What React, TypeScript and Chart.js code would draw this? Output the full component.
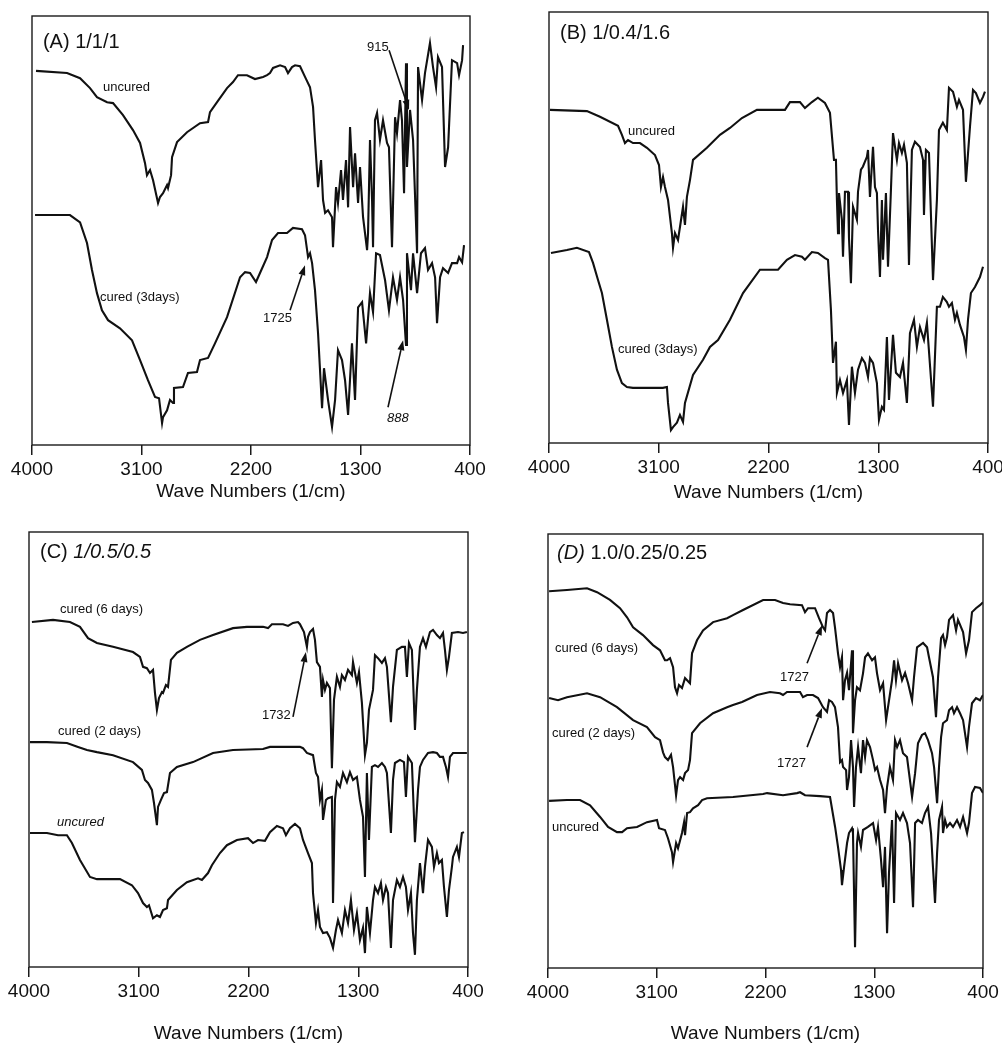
import React, { useEffect, useRef } from "react";
import { Chart, registerables } from "chart.js";

Chart.register(...registerables);

type Pt = [number, number];

const FONT = '"Liberation Sans", Arial, Helvetica, sans-serif';
const INK = "#111111";

const X_TICKS = [4000, 3100, 2200, 1300, 400];
const X_TITLE = "Wave Numbers (1/cm)";

// ---- Panel A : 1/1/1 ----
const A_UNCURED: Pt[] = [
  [3967,87.2],[3712,86.7],[3605,85.5],[3523,83.2],[3466,81.1],[3383,79.9],[3334,79.7],[3252,76.9],[3170,73.4],[3112,70.4],
  [3071,65.7],[3055,62.9],[3030,64.1],[3005,61.7],[2964,56.4],[2948,57.8],[2923,58.7],[2890,60.6],[2882,59.9],[2857,62.9],
  [2849,67.1],[2808,70.6],[2726,72.9],[2619,75.0],[2553,75.3],[2537,77.6],[2479,79.9],[2397,83.2],[2348,84.6],[2307,86.2],
  [2233,86.2],[2167,85.3],[2101,85.8],[2068,86.2],[2044,86.7],[2019,87.9],[1961,88.5],[1920,88.1],[1896,86.7],[1863,88.1],
  [1838,88.5],[1797,88.3],[1756,85.8],[1715,83.4],[1690,78.8],[1674,71.1],[1649,60.1],[1624,66.4],[1608,57.1],[1591,54.1],
  [1567,54.7],[1534,53.1],[1526,46.1],[1501,60.1],[1485,56.4],[1460,64.1],[1444,57.1],[1419,66.4],[1402,55.4],[1386,74.1],
  [1361,60.1],[1345,68.0],[1320,56.4],[1304,64.8],[1279,53.1],[1246,45.4],[1238,49.4],[1222,71.1],[1205,57.1],[1197,46.1],
  [1181,75.7],[1164,77.4],[1140,71.1],[1115,75.7],[1082,70.4],[1066,69.4],[1041,46.1],[1016,76.4],[1000,72.7],[975,80.4],
  [959,75.7],[942,58.7],[926,89.0],[918,64.8],[893,78.1],[868,71.1],[835,44.7],[827,88.1],[794,80.4],[770,86.7],
  [729,93.7],[704,88.1],[679,83.4],[663,90.4],[630,88.1],[605,64.8],[580,69.4],[548,89.7],[506,89.0],[490,86.2],
  [465,89.7],[457,93.2],
];
const A_CURED_3D: Pt[] = [
  [3975,53.6],[3688,53.6],[3605,51.9],[3548,47.1],[3507,40.8],[3466,35.4],[3425,31.4],[3375,29.1],[3277,27.2],[3178,24.4],
  [3112,19.8],[3047,15.1],[2989,11.2],[2956,10.9],[2931,5.1],[2923,6.5],[2890,8.1],[2866,10.5],[2841,9.8],[2833,13.3],
  [2759,13.5],[2718,16.8],[2644,17.0],[2619,19.8],[2553,20.3],[2496,23.7],[2397,29.8],[2290,39.1],[2249,40.3],[2208,40.1],
  [2159,38.0],[2126,40.1],[2068,43.8],[2027,47.8],[1978,49.4],[1904,49.4],[1855,50.6],[1781,50.3],[1756,48.9],[1731,43.8],
  [1715,44.7],[1698,42.4],[1674,36.1],[1649,26.1],[1616,8.6],[1600,17.9],[1567,10.5],[1534,4.2],[1509,10.5],[1485,22.1],
  [1452,19.8],[1427,15.1],[1402,7.0],[1370,23.7],[1345,10.5],[1320,32.1],[1287,33.3],[1254,23.7],[1222,35.4],[1197,31.0],
  [1172,44.7],[1140,44.3],[1098,38.4],[1066,31.4],[1033,39.1],[1000,33.8],[975,39.1],[950,33.8],[926,23.3],[918,44.7],
  [885,36.1],[868,44.7],[835,35.4],[803,44.7],[770,45.9],[745,40.8],[712,42.4],[687,39.1],[671,28.4],[646,39.1],
  [622,41.2],[580,40.1],[548,42.4],[506,42.4],[490,43.8],[465,42.6],[449,46.6],
];

// ---- Panel B : 1/0.4/1.6 ----
const B_UNCURED: Pt[] = [
  [3992,77.3],[3689,77.0],[3582,75.7],[3434,73.6],[3402,71.5],[3377,69.6],[3352,70.3],[3311,69.6],[3254,69.6],[3197,68.5],
  [3131,66.8],[3098,64.5],[3082,59.4],[3065,61.7],[3049,59.4],[3024,56.4],[2992,48.7],[2983,45.3],[2967,48.7],[2942,47.1],
  [2901,54.8],[2885,50.6],[2869,57.1],[2844,61.0],[2819,65.7],[2705,68.5],[2598,71.5],[2516,73.1],[2418,75.4],[2295,77.3],
  [2065,77.3],[2024,79.1],[1942,79.1],[1901,77.7],[1844,79.1],[1795,80.1],[1737,78.9],[1696,76.6],[1663,65.7],[1647,65.7],
  [1639,56.4],[1630,48.7],[1622,58.0],[1598,51.8],[1589,43.2],[1573,58.3],[1548,58.3],[1540,47.6],[1524,37.1],[1507,54.8],
  [1475,51.8],[1466,58.3],[1442,63.4],[1426,64.1],[1393,66.4],[1384,68.0],[1368,57.1],[1343,68.7],[1327,59.4],[1311,58.0],
  [1302,49.4],[1286,38.5],[1270,56.4],[1261,42.5],[1237,58.0],[1220,40.9],[1196,58.7],[1179,71.9],[1147,65.7],[1130,69.6],
  [1106,67.3],[1089,69.2],[1065,65.0],[1048,41.3],[1024,68.0],[999,69.9],[958,68.7],[933,65.7],[925,52.9],[909,68.0],
  [884,67.3],[851,37.8],[819,56.4],[802,72.6],[770,74.3],[737,72.6],[720,82.4],[687,81.5],[655,78.0],[638,79.6],
  [605,77.3],[581,60.6],[548,73.3],[523,81.9],[499,81.2],[466,78.9],[441,80.3],[425,81.5],
];
const B_CURED_3D: Pt[] = [
  [3984,44.1],[3853,44.8],[3771,45.3],[3672,44.3],[3639,41.8],[3598,37.8],[3566,34.8],[3525,28.6],[3484,22.3],[3443,17.0],
  [3402,13.9],[3361,13.0],[3312,12.8],[3066,12.8],[3033,13.0],[3024,9.3],[3000,3.0],[2983,3.7],[2951,4.7],[2926,6.5],
  [2901,4.9],[2885,9.3],[2819,15.8],[2737,19.3],[2680,22.3],[2614,23.9],[2516,28.6],[2409,34.8],[2270,40.2],[2122,40.2],
  [2049,42.5],[1983,43.6],[1926,43.2],[1901,42.5],[1844,44.3],[1795,44.1],[1737,42.9],[1712,42.5],[1688,30.9],[1671,18.6],
  [1647,23.5],[1639,11.6],[1614,14.6],[1589,11.6],[1557,14.6],[1540,4.2],[1516,17.7],[1491,11.6],[1466,17.0],[1434,19.7],
  [1409,18.6],[1384,15.3],[1368,19.7],[1343,18.6],[1311,13.9],[1294,5.4],[1270,8.4],[1253,7.7],[1229,24.6],[1212,10.0],
  [1179,25.1],[1155,16.3],[1122,15.3],[1097,18.6],[1065,9.3],[1040,25.5],[1007,28.6],[983,22.3],[958,26.9],[925,23.9],
  [901,27.9],[851,8.4],[819,31.6],[794,31.6],[770,33.9],[737,32.7],[720,31.6],[696,32.5],[671,28.6],[655,30.2],
  [630,27.4],[597,24.6],[581,21.6],[564,28.6],[540,34.8],[507,36.2],[466,38.5],[441,40.9],
];

// ---- Panel C : 1/0.5/0.5 ----
const C_CURED_6D: Pt[] = [
  [3976,79.3],[3803,79.8],[3664,79.3],[3582,78.2],[3516,75.6],[3443,74.5],[3311,73.6],[3147,72.4],[3090,71.3],[3065,69.0],
  [3033,68.7],[3008,67.6],[2983,68.3],[2967,63.0],[2951,59.1],[2934,61.8],[2910,63.2],[2901,63.0],[2877,64.8],[2860,64.4],
  [2836,70.6],[2787,72.2],[2705,73.6],[2598,75.2],[2491,76.3],[2327,77.9],[2213,78.2],[2081,78.2],[2040,77.9],[2008,78.8],
  [1917,78.8],[1876,78.4],[1835,79.1],[1794,79.3],[1778,78.8],[1745,77.0],[1721,73.6],[1712,75.9],[1696,77.0],[1671,77.7],
  [1655,75.2],[1639,70.1],[1614,69.0],[1598,62.1],[1589,66.0],[1573,63.7],[1557,65.3],[1532,64.1],[1516,45.7],[1499,61.4],
  [1475,66.7],[1450,64.4],[1434,67.1],[1409,66.0],[1384,68.3],[1352,67.1],[1343,70.1],[1311,65.3],[1294,67.8],[1270,60.7],
  [1245,48.7],[1229,51.5],[1212,59.1],[1179,63.7],[1163,71.7],[1138,71.0],[1106,69.9],[1081,71.0],[1065,69.0],[1032,56.3],
  [1015,64.4],[983,72.9],[942,73.6],[917,73.6],[901,66.7],[884,74.5],[860,72.9],[835,54.5],[819,63.7],[794,73.6],
  [769,75.6],[745,73.6],[712,77.0],[687,77.5],[655,76.3],[630,75.6],[605,76.8],[589,72.9],[573,68.3],[556,71.3],
  [532,76.8],[482,77.0],[441,76.8],[409,77.0],
];
const C_CURED_2D: Pt[] = [
  [3992,51.7],[3853,51.7],[3689,51.5],[3598,50.6],[3525,49.9],[3443,49.4],[3311,48.7],[3147,47.1],[3074,45.3],[3049,43.0],
  [3024,42.3],[2992,40.7],[2975,37.7],[2951,32.6],[2942,36.8],[2918,38.4],[2893,40.0],[2869,40.2],[2844,44.6],[2787,46.0],
  [2655,47.1],[2491,49.2],[2327,49.9],[2081,50.1],[2024,50.6],[1778,50.6],[1753,50.3],[1721,49.2],[1671,48.7],[1647,44.6],
  [1630,43.7],[1614,38.4],[1598,40.7],[1589,33.8],[1565,38.4],[1548,38.8],[1516,39.1],[1507,14.7],[1491,38.4],[1475,42.5],
  [1450,41.4],[1425,44.6],[1393,42.5],[1368,44.8],[1343,43.0],[1311,43.7],[1286,38.4],[1261,34.5],[1245,20.7],[1229,44.6],
  [1212,29.2],[1188,46.0],[1163,46.4],[1138,46.0],[1106,46.9],[1081,46.0],[1065,44.6],[1032,30.8],[1015,43.0],[999,46.9],
  [958,47.6],[925,47.1],[909,39.1],[892,48.3],[860,46.9],[835,28.7],[810,40.7],[794,46.0],[769,47.6],[728,49.2],
  [687,49.4],[655,49.2],[630,48.3],[605,48.3],[581,46.0],[564,43.7],[548,48.3],[523,49.2],[466,49.2],[409,49.2],
];
const C_UNCURED: Pt[] = [
  [3992,30.8],[3853,30.8],[3762,30.3],[3689,30.3],[3648,28.5],[3582,24.6],[3500,20.7],[3443,20.2],[3254,20.2],[3156,18.8],
  [3106,17.0],[3065,14.7],[3033,13.8],[3016,14.2],[2983,11.2],[2951,11.9],[2926,11.5],[2901,13.1],[2869,13.5],[2860,15.4],
  [2787,17.7],[2705,19.5],[2614,20.4],[2582,20.0],[2532,21.6],[2500,23.4],[2434,26.2],[2377,28.0],[2295,29.2],[2204,29.6],
  [2163,28.5],[2122,29.2],[2065,29.0],[2024,31.0],[1967,32.4],[1917,31.9],[1893,30.3],[1860,31.9],[1819,32.9],[1778,31.9],
  [1753,29.2],[1712,26.2],[1680,23.9],[1671,17.0],[1647,10.1],[1630,13.1],[1614,9.2],[1589,7.8],[1557,8.0],[1532,6.7],
  [1507,4.4],[1483,8.5],[1466,10.8],[1434,7.8],[1409,13.1],[1384,10.1],[1360,15.4],[1335,8.5],[1311,12.4],[1286,6.2],
  [1261,9.0],[1245,3.2],[1229,13.8],[1204,7.8],[1179,15.4],[1163,18.4],[1138,17.0],[1114,19.3],[1097,15.4],[1073,18.4],
  [1056,17.0],[1032,4.4],[1015,15.4],[983,20.0],[958,18.4],[933,20.7],[909,18.4],[892,13.1],[868,17.0],[851,7.8],
  [835,2.8],[819,15.4],[794,23.9],[769,17.0],[753,23.0],[728,29.2],[696,27.6],[679,23.0],[655,26.2],[638,23.9],
  [614,24.6],[597,18.4],[573,11.5],[556,17.7],[532,23.0],[523,25.3],[491,27.6],[474,25.3],[450,30.8],[433,31.0],
];

// ---- Panel D : 1.0/0.25/0.25 ----
const D_CURED_6D: Pt[] = [
  [3991,86.8],[3843,87.1],[3677,87.5],[3594,86.6],[3487,84.8],[3404,82.9],[3346,80.8],[3296,78.5],[3214,76.7],[3131,74.4],
  [3073,73.2],[3032,70.9],[3015,70.9],[2990,71.4],[2965,69.3],[2949,64.7],[2932,63.3],[2916,65.2],[2891,64.5],[2866,66.8],
  [2849,66.3],[2825,65.6],[2808,72.5],[2767,75.5],[2717,77.8],[2634,79.7],[2518,80.6],[2469,81.3],[2386,82.5],[2220,84.8],
  [2121,84.8],[2055,84.1],[1997,83.8],[1898,83.6],[1873,82.0],[1848,82.9],[1790,82.9],[1757,80.6],[1724,78.5],[1707,77.8],
  [1691,81.8],[1666,82.5],[1641,81.8],[1625,78.5],[1600,72.5],[1583,69.3],[1567,71.6],[1558,61.7],[1542,66.3],[1525,68.0],
  [1509,64.0],[1484,73.2],[1476,54.1],[1459,61.7],[1443,64.7],[1418,64.0],[1393,67.9],[1376,71.6],[1352,72.5],[1318,70.9],
  [1294,71.6],[1277,67.9],[1252,64.0],[1227,65.6],[1202,57.1],[1186,60.1],[1153,66.3],[1136,70.9],[1120,66.3],[1103,70.2],
  [1070,66.3],[1045,68.0],[1020,65.6],[987,61.7],[971,67.0],[946,73.9],[921,74.4],[896,74.9],[863,73.9],[847,71.6],
  [814,67.0],[789,57.8],[772,67.0],[747,76.0],[731,76.7],[714,74.4],[698,76.2],[681,80.2],[648,81.3],[623,77.8],
  [607,80.2],[565,77.4],[540,72.5],[516,75.5],[491,82.0],[458,82.9],[425,83.6],[400,84.3],
];
const D_CURED_2D: Pt[] = [
  [3991,62.2],[3917,61.7],[3843,62.4],[3677,63.3],[3569,62.4],[3429,60.1],[3296,57.1],[3181,55.5],[3114,53.2],[3073,52.5],
  [3048,49.7],[3032,48.6],[3007,47.9],[2982,49.1],[2965,46.3],[2940,39.8],[2924,43.3],[2907,44.0],[2882,43.3],[2866,44.9],
  [2841,45.6],[2825,47.9],[2808,54.1],[2742,56.4],[2634,58.7],[2518,60.1],[2469,60.6],[2394,61.3],[2270,62.9],[2163,63.6],
  [2080,63.3],[2055,62.9],[2022,63.6],[1914,63.6],[1890,62.4],[1856,62.9],[1807,62.9],[1765,62.2],[1724,60.1],[1691,59.0],
  [1674,61.7],[1650,61.3],[1625,60.1],[1600,55.5],[1583,47.4],[1567,47.9],[1558,46.3],[1533,45.6],[1525,41.0],[1509,44.0],
  [1492,52.5],[1476,46.3],[1467,37.1],[1451,46.3],[1434,50.9],[1410,44.9],[1393,52.5],[1376,48.6],[1360,52.5],[1335,50.9],
  [1310,47.9],[1293,45.6],[1277,46.3],[1252,43.3],[1227,41.0],[1211,35.7],[1194,41.7],[1170,46.3],[1145,43.3],[1128,52.5],
  [1111,50.9],[1087,52.5],[1062,49.5],[1029,48.6],[1012,44.9],[987,39.4],[962,44.9],[938,51.8],[905,53.7],[880,54.1],
  [855,52.5],[822,49.5],[805,46.3],[780,38.0],[764,46.3],[747,53.2],[731,56.4],[698,57.1],[681,59.4],[656,60.1],
  [640,58.7],[615,60.1],[590,58.7],[565,57.1],[532,50.9],[516,55.5],[491,61.0],[458,62.2],[425,61.7],[400,62.9],
];
const D_UNCURED: Pt[] = [
  [3991,38.5],[3843,38.7],[3735,38.7],[3652,37.5],[3569,34.8],[3503,32.5],[3429,31.3],[3387,31.3],[3346,32.2],[3263,32.5],
  [3181,33.6],[3098,34.1],[3081,32.2],[3032,31.8],[3007,29.9],[2974,26.7],[2965,24.4],[2940,28.8],[2924,27.6],[2891,31.1],
  [2874,33.6],[2866,30.6],[2849,35.7],[2825,35.9],[2800,36.8],[2758,37.5],[2725,38.7],[2684,39.1],[2469,39.4],[2220,40.1],
  [2187,40.3],[2055,39.8],[1939,40.3],[1914,40.5],[1873,39.8],[1749,39.6],[1666,39.4],[1624,32.5],[1600,27.9],[1575,22.6],
  [1567,19.1],[1550,23.2],[1525,28.8],[1509,31.1],[1484,32.2],[1476,31.1],[1459,4.8],[1443,28.8],[1434,31.1],[1410,27.9],
  [1393,31.8],[1352,32.5],[1310,33.4],[1285,29.5],[1269,32.5],[1244,24.9],[1227,18.6],[1211,27.9],[1194,8.0],[1178,21.9],
  [1153,34.1],[1136,15.0],[1120,35.7],[1087,34.1],[1062,35.7],[1029,33.4],[1004,28.8],[979,14.0],[962,33.4],[938,34.1],
  [905,33.4],[880,35.7],[855,37.1],[830,31.1],[814,23.2],[797,15.0],[780,26.5],[764,34.1],[739,37.1],[731,31.1],
  [714,34.1],[698,32.5],[673,33.4],[648,32.5],[615,34.1],[590,32.5],[565,34.8],[532,31.1],[516,33.4],[491,40.3],
  [466,41.7],[425,41.5],[400,40.3],
];

interface Part { text: string; italic?: boolean }
interface Note { text: string; wn: number; t: number; italic?: boolean }
interface ArrowDef { from: Pt; to: Pt }
interface Panel {
  key: string;
  box: { left: number; top: number; width: number; height: number };
  pad: { left: number; right: number; top: number };
  axisH: number;
  titlePad: number;
  heading: { wn: number; t: number; parts: Part[] };
  series: Pt[][];
  notes: Note[];
  arrows: ArrowDef[];
}

const PANELS: Panel[] = [
  {
    key: "A",
    box: { left: 0, top: 0, width: 520, height: 520 },
    pad: { left: 32, right: 50, top: 16 },
    axisH: 75,
    titlePad: 17,
    heading: { wn: 3910, t: 93.9, parts: [{ text: "(A) 1/1/1" }] },
    series: [A_UNCURED, A_CURED_3D],
    notes: [
      { text: "uncured", wn: 3416, t: 83.4 },
      { text: "cured (3days)", wn: 3441, t: 34.5 },
      { text: "915", wn: 1246, t: 92.7 },
      { text: "1725", wn: 2101, t: 29.6 },
      { text: "888", wn: 1082, t: 6.3, italic: true },
    ],
    arrows: [
      { from: [1065, 92.0], to: [901, 78.1] },
      { from: [1879, 31.4], to: [1756, 41.9] },
      { from: [1074, 8.8], to: [950, 24.4] },
    ],
  },
  {
    key: "B",
    box: { left: 500, top: 0, width: 530, height: 520 },
    pad: { left: 49, right: 42, top: 12 },
    axisH: 77,
    titlePad: 16,
    heading: { wn: 3910, t: 95.1, parts: [{ text: "(B) 1/0.4/1.6" }] },
    series: [B_UNCURED, B_CURED_3D],
    notes: [
      { text: "uncured", wn: 3352, t: 72.2 },
      { text: "cured (3days)", wn: 3434, t: 21.6 },
    ],
    arrows: [],
  },
  {
    key: "C",
    box: { left: 0, top: 520, width: 520, height: 523 },
    pad: { left: 29, right: 52, top: 12 },
    axisH: 76,
    titlePad: -2,
    heading: { wn: 3910, t: 95.2, parts: [{ text: "(C) " }, { text: "1/0.5/0.5", italic: true }] },
    series: [C_CURED_6D, C_CURED_2D, C_UNCURED],
    notes: [
      { text: "cured (6 days)", wn: 3746, t: 82.3 },
      { text: "cured (2 days)", wn: 3762, t: 54.2 },
      { text: "uncured", wn: 3771, t: 33.3, italic: true },
      { text: "1732", wn: 2090, t: 57.9 },
    ],
    arrows: [{ from: [1835, 57.5], to: [1729, 72.4] }],
  },
  {
    key: "D",
    box: { left: 500, top: 520, width: 530, height: 523 },
    pad: { left: 48, right: 47, top: 14 },
    axisH: 75,
    titlePad: -2,
    heading: { wn: 3925, t: 95.6, parts: [{ text: "(D)", italic: true }, { text: " 1.0/0.25/0.25" }] },
    series: [D_CURED_6D, D_CURED_2D, D_UNCURED],
    notes: [
      { text: "cured (6 days)", wn: 3942, t: 73.7 },
      { text: "cured (2 days)", wn: 3967, t: 54.1 },
      { text: "uncured", wn: 3967, t: 32.5 },
      { text: "1727", wn: 2080, t: 67.0 },
      { text: "1727", wn: 2105, t: 47.2 },
    ],
    arrows: [
      { from: [1856, 70.2], to: [1732, 79.0] },
      { from: [1856, 50.9], to: [1732, 59.9] },
    ],
  },
];

function makeDecor(p: Panel) {
  return {
    id: "decor" + p.key,
    afterDatasetsDraw(chart: any) {
      const { ctx, chartArea: a } = chart;
      const x = chart.scales.x;
      const y = chart.scales.y;
      ctx.save();
      // frame
      ctx.strokeStyle = "#1a1a1a";
      ctx.lineWidth = 1.4;
      ctx.strokeRect(a.left, a.top, a.right - a.left, a.bottom - a.top);
      ctx.fillStyle = INK;
      ctx.textBaseline = "middle";
      ctx.textAlign = "left";
      // heading
      let hx = x.getPixelForValue(p.heading.wn);
      const hy = y.getPixelForValue(p.heading.t);
      for (const part of p.heading.parts) {
        ctx.font = `${part.italic ? "italic " : ""}20px ${FONT}`;
        ctx.fillText(part.text, hx, hy);
        hx += ctx.measureText(part.text).width;
      }
      // notes
      for (const n of p.notes) {
        ctx.font = `${n.italic ? "italic " : ""}13px ${FONT}`;
        ctx.fillText(n.text, x.getPixelForValue(n.wn), y.getPixelForValue(n.t));
      }
      // arrows
      ctx.strokeStyle = INK;
      ctx.lineWidth = 1.6;
      for (const ar of p.arrows) {
        const x1 = x.getPixelForValue(ar.from[0]);
        const y1 = y.getPixelForValue(ar.from[1]);
        const x2 = x.getPixelForValue(ar.to[0]);
        const y2 = y.getPixelForValue(ar.to[1]);
        const ang = Math.atan2(y2 - y1, x2 - x1);
        const hl = 10;
        const hw = 3.5;
        const bx = x2 - hl * Math.cos(ang);
        const by = y2 - hl * Math.sin(ang);
        ctx.beginPath();
        ctx.moveTo(x1, y1);
        ctx.lineTo(bx, by);
        ctx.stroke();
        ctx.beginPath();
        ctx.moveTo(x2, y2);
        ctx.lineTo(bx + hw * Math.sin(ang), by - hw * Math.cos(ang));
        ctx.lineTo(bx - hw * Math.sin(ang), by + hw * Math.cos(ang));
        ctx.closePath();
        ctx.fill();
      }
      ctx.restore();
    },
  };
}

function SpectrumPanel({ p }: { p: Panel }) {
  const ref = useRef<HTMLCanvasElement | null>(null);
  useEffect(() => {
    if (!ref.current) return;
    const chart = new Chart(ref.current, {
      type: "line",
      data: {
        datasets: p.series.map((s) => ({
          data: s.map(([wn, t]) => ({ x: wn, y: t })),
          borderColor: INK,
          borderWidth: 2.1,
          pointRadius: 0,
          tension: 0,
          fill: false,
          borderJoinStyle: "miter",
        })),
      },
      options: {
        animation: false,
        responsive: false,
        maintainAspectRatio: false,
        devicePixelRatio: 1,
        events: [],
        layout: { padding: { left: p.pad.left, right: p.pad.right, top: p.pad.top, bottom: 0 } },
        plugins: { legend: { display: false }, tooltip: { enabled: false }, title: { display: false } },
        scales: {
          x: {
            type: "linear",
            min: 400,
            max: 4000,
            reverse: true,
            afterBuildTicks: (s: any) => {
              s.ticks = X_TICKS.map((v) => ({ value: v }));
            },
            afterFit: (s: any) => {
              s.height = p.axisH;
            },
            ticks: {
              color: INK,
              font: { size: 19, family: FONT },
              padding: 3,
              autoSkip: false,
              maxRotation: 0,
              callback: (v: any) => String(v),
            },
            grid: {
              display: true,
              drawOnChartArea: false,
              drawTicks: true,
              tickLength: 10,
              color: "#1a1a1a",
              lineWidth: 1.5,
            },
            border: { display: false },
            title: {
              display: true,
              text: X_TITLE,
              color: INK,
              font: { size: 19, family: FONT },
              padding: { top: 0, bottom: p.titlePad },
            },
          },
          y: { display: false, min: 0, max: 100 },
        },
      },
      plugins: [makeDecor(p)],
    } as any);
    return () => chart.destroy();
  }, [p]);
  return (
    <canvas
      ref={ref}
      width={p.box.width}
      height={p.box.height}
      style={{
        position: "absolute",
        left: p.box.left,
        top: p.box.top,
        width: p.box.width,
        height: p.box.height,
      }}
    />
  );
}

export default function App() {
  return (
    <div
      style={{
        position: "absolute",
        left: 0,
        top: 0,
        width: 1002,
        height: 1043,
        overflow: "hidden",
        background: "#ffffff",
      }}
    >
      {PANELS.map((p) => (
        <SpectrumPanel key={p.key} p={p} />
      ))}
    </div>
  );
}
